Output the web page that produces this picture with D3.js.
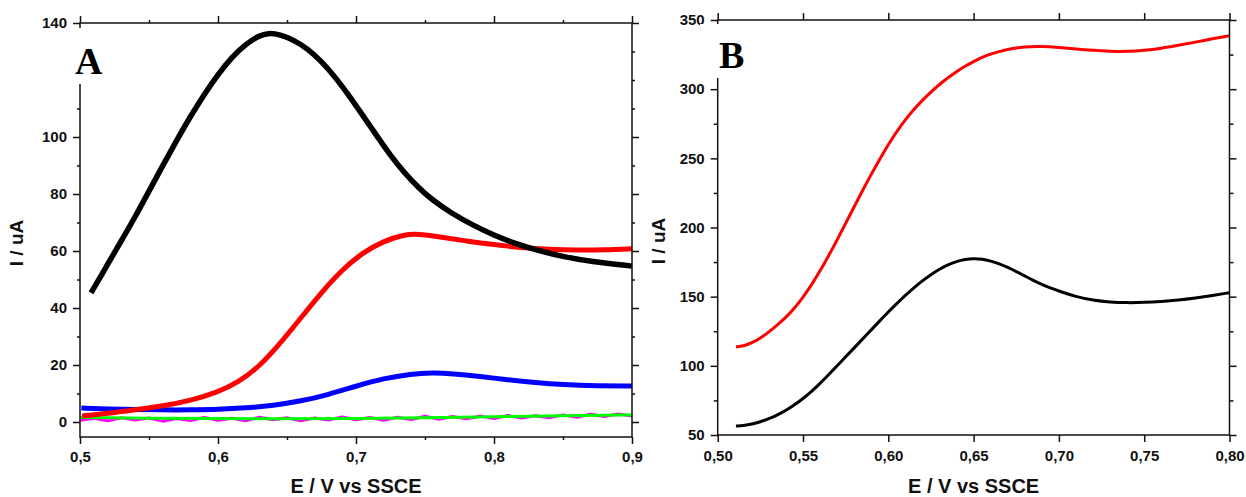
<!DOCTYPE html>
<html><head><meta charset="utf-8">
<script src="https://cdn.jsdelivr.net/npm/d3@7"></script>
<style>body{margin:0;background:#fff}svg{display:block}</style>
</head><body><svg id="c" width="1246" height="497"></svg>
<script>
// ---------- Panel A data ----------
const aXTicks = [0.5, 0.6, 0.7, 0.8, 0.9];
const aXMinor = [0.55, 0.65, 0.75, 0.85];
const aYTicks = [0, 20, 40, 60, 80, 100, 140];
const aYMinor = [10, 30, 50, 70, 90, 110, 120, 130];

const aBlackE = [0.508,0.52,0.53,0.54,0.55,0.56,0.57,0.58,0.59,0.60,0.61,0.62,0.63,0.636,0.645,0.655,0.665,0.675,0.685,0.695,0.705,0.715,0.725,0.735,0.745,0.755,0.77,0.785,0.80,0.815,0.83,0.85,0.87,0.9];
const aBlackI = [45.3,55.3,63.6,72,81,90,98.8,107.2,115,122,128,132.6,135.6,136.5,136,134,131,126.5,121,114.5,107.5,100.5,93.5,87.5,82.3,78,73,69,65.5,62.7,60.4,58,56.3,54.7];

const aRedE = [0.5015,0.52,0.54,0.56,0.58,0.60,0.615,0.63,0.645,0.66,0.675,0.69,0.705,0.72,0.735,0.745,0.76,0.78,0.80,0.82,0.84,0.86,0.88,0.9];
const aRedI = [2.1,3.0,4.3,5.6,7.5,10.5,14,19.5,27.5,36.5,45.5,53.5,59.5,63.5,65.8,66,65,63.5,62.2,61.2,60.6,60.3,60.4,60.8];

const aBlueE = [0.501,0.52,0.54,0.56,0.58,0.60,0.62,0.64,0.66,0.68,0.70,0.72,0.74,0.755,0.77,0.79,0.81,0.83,0.85,0.875,0.9];
const aBlueI = [4.9,4.6,4.35,4.25,4.25,4.4,4.9,5.8,7.3,9.6,12.6,15.3,16.9,17.3,17.0,16.0,14.8,13.8,13.1,12.7,12.6];

const aGreenE = [0.5,0.55,0.6,0.65,0.7,0.75,0.8,0.85,0.9];
const aGreenI = [1.6,1.3,1.2,1.1,1.2,1.5,1.8,2.2,2.5];

const aMagE = [0.50,0.51,0.52,0.53,0.54,0.55,0.56,0.57,0.58,0.59,0.60,0.61,0.62,0.63,0.64,0.65,0.66,0.67,0.68,0.69,0.70,0.71,0.72,0.73,0.74,0.75,0.76,0.77,0.78,0.79,0.80,0.81,0.82,0.83,0.84,0.85,0.86,0.87,0.88,0.89,0.90];
const aMagI = [0.6,1.3,0.4,1.5,0.7,1.4,0.3,1.2,0.5,1.6,0.6,1.3,0.4,1.7,0.8,1.5,0.4,1.4,0.7,1.8,0.8,1.6,0.6,1.7,0.9,2.0,1.0,1.9,1.1,2.1,1.2,2.3,1.4,2.2,1.5,2.5,1.7,2.7,1.9,2.8,2.1];

// ---------- Panel B data ----------
const bXTicks = [0.50, 0.55, 0.60, 0.65, 0.70, 0.75, 0.80];
const bYTicks = [50, 100, 150, 200, 250, 300, 350];
const bYMinor = [75, 125, 175, 225, 275, 325];

const bRedE = [0.5107,0.515,0.52,0.525,0.53,0.535,0.54,0.545,0.55,0.555,0.56,0.565,0.57,0.575,0.58,0.585,0.59,0.595,0.60,0.605,0.61,0.615,0.62,0.625,0.63,0.635,0.64,0.645,0.65,0.655,0.66,0.67,0.68,0.69,0.70,0.71,0.72,0.73,0.74,0.75,0.76,0.77,0.78,0.79,0.80];
const bRedI = [113.8,114.2,116.5,120,124.5,129.5,135,141.5,149.5,158.5,168.5,179.5,191,203,215,227,238.5,249.5,260,269.5,278,285.5,292,298,303.5,308.3,312.7,316.6,320,323,325.5,329,330.8,331,330.2,329,328,327.3,327.2,328,329.5,331.7,334,336.4,338.7];

const bBlackE = [0.5107,0.515,0.52,0.525,0.53,0.535,0.54,0.545,0.55,0.555,0.56,0.565,0.57,0.575,0.58,0.585,0.59,0.595,0.60,0.605,0.61,0.615,0.62,0.625,0.63,0.635,0.64,0.645,0.65,0.655,0.66,0.665,0.67,0.675,0.68,0.685,0.69,0.695,0.70,0.71,0.72,0.73,0.74,0.75,0.76,0.77,0.78,0.79,0.80];
const bBlackI = [56.5,56.8,57.8,59.5,61.8,64.5,67.8,71.8,76.3,81.5,87.3,93.5,100,106.5,113,119.5,126,132.5,139,145,151,156.5,161.5,166,170,173.2,175.5,177,177.6,177.2,175.8,173.8,171.2,168.2,165,161.8,158.8,156.3,154,150,147.3,146,145.6,145.8,146.5,147.5,149,150.8,152.9];

const svg = d3.select("#c");
const SANS = "'Liberation Sans', Arial, sans-serif";
const SERIF = "'Liberation Serif', 'Times New Roman', serif";

function zip(E, I) { return E.map((e, i) => [e, I[i]]); }

function drawPanel(p) {
  const g = svg.append("g");
  const x = d3.scaleLinear().domain(p.xDom).range([p.left, p.right]);
  const y = d3.scaleLinear().domain(p.yDom).range([p.bottom, p.top]);

  p.series.forEach(s => {
    const line = d3.line().x(d => x(d[0])).y(d => y(d[1]))
      .curve(s.noisy ? d3.curveLinear : d3.curveBasis);
    g.append("path").datum(zip(s.E, s.I))
      .attr("fill", "none").attr("stroke", s.color)
      .attr("stroke-width", s.w).attr("stroke-linejoin", "round")
      .attr("d", line);
  });

  const fmt = v => d3.format(p.xFmt)(v).replace(".", ",");
  const styleAxis = (sel) => {
    sel.select(".domain").remove();
    sel.selectAll("line").attr("stroke", "#111").attr("stroke-width", 1.5);
    sel.selectAll("text").attr("font-family", SANS).attr("font-weight", "bold")
      .attr("font-size", 15).attr("fill", "#111");
  };
  // bottom / top
  g.append("g").attr("transform", `translate(0,${p.bottom})`)
    .call(d3.axisBottom(x).tickValues(p.xTicks).tickSize(p.tick).tickPadding(p.xPad).tickFormat(fmt)).call(styleAxis);
  g.append("g").attr("transform", `translate(0,${p.top})`)
    .call(d3.axisTop(x).tickValues(p.xTicks).tickSize(p.tick).tickFormat("")).call(styleAxis);
  if (p.xMinor.length) {
    g.append("g").attr("transform", `translate(0,${p.bottom})`)
      .call(d3.axisBottom(x).tickValues(p.xMinor).tickSize(p.minor).tickFormat("")).call(styleAxis);
    g.append("g").attr("transform", `translate(0,${p.top})`)
      .call(d3.axisTop(x).tickValues(p.xMinor).tickSize(p.minor).tickFormat("")).call(styleAxis);
  }
  // left
  g.append("g").attr("transform", `translate(${p.left},0)`)
    .call(d3.axisLeft(y).tickValues(p.yTicks).tickSize(p.tick).tickPadding(6).tickFormat(d3.format("d"))).call(styleAxis);
  g.append("g").attr("transform", `translate(${p.left},0)`)
    .call(d3.axisLeft(y).tickValues(p.yMinor).tickSize(p.minor).tickFormat("")).call(styleAxis);
  // right
  g.append("g").attr("transform", `translate(${p.right},0)`)
    .call(d3.axisRight(y).tickValues(p.yTicks).tickSize(p.tick).tickFormat("")).call(styleAxis);
  g.append("g").attr("transform", `translate(${p.right},0)`)
    .call(d3.axisRight(y).tickValues(p.yMinor).tickSize(p.minor).tickFormat("")).call(styleAxis);

  // frame
  g.append("rect").attr("x", p.left).attr("y", p.top)
    .attr("width", p.right - p.left).attr("height", p.bottom - p.top)
    .attr("fill", "none").attr("stroke", "#111").attr("stroke-width", 1.5);

  // panel letter with white backing
  g.append("rect").attr("x", p.box[0]).attr("y", p.box[1])
    .attr("width", p.box[2]).attr("height", p.box[3]).attr("fill", "#fff");
  g.append("text").attr("x", p.letterPos[0]).attr("y", p.letterPos[1])
    .attr("font-family", SERIF).attr("font-weight", "bold").attr("font-size", 38)
    .attr("fill", "#000").text(p.letter);

  // axis titles
  g.append("text").attr("x", (p.left + p.right) / 2).attr("y", 493)
    .attr("text-anchor", "middle").attr("font-family", SANS).attr("font-weight", "bold")
    .attr("font-size", 20).attr("fill", "#111").text("E / V vs SSCE");
  g.append("text").attr("transform", `translate(${p.yTitle[0]},${p.yTitle[1]}) rotate(-90)`)
    .attr("text-anchor", "middle").attr("font-family", SANS).attr("font-weight", "bold")
    .attr("font-size", 19).attr("fill", "#111").text("I / uA");
}

drawPanel({
  left: 80, right: 632, top: 23, bottom: 437,
  xDom: [0.5, 0.9], yDom: [-5.26, 140],
  xTicks: aXTicks, xMinor: aXMinor, yTicks: aYTicks, yMinor: aYMinor,
  xFmt: ".1f", tick: 7, minor: 3, xPad: 7,
  box: [34, 28, 72, 56], letter: "A", letterPos: [75, 74],
  yTitle: [23, 243],
  series: [
    { E: aMagE, I: aMagI, color: "#ff00ff", w: 3, noisy: true },
    { E: aGreenE, I: aGreenI, color: "#00ff00", w: 3 },
    { E: aBlueE, I: aBlueI, color: "#0000ff", w: 5 },
    { E: aRedE, I: aRedI, color: "#ff0000", w: 5 },
    { E: aBlackE, I: aBlackI, color: "#000000", w: 5.5 }
  ]
});

drawPanel({
  left: 717.7, right: 1229.5, top: 20, bottom: 435,
  xDom: [0.5, 0.8], yDom: [50, 350],
  xTicks: bXTicks, xMinor: [], yTicks: bYTicks, yMinor: bYMinor,
  xFmt: ".2f", tick: 7, minor: 4, xPad: 8,
  box: [700, 24, 50, 54], letter: "B", letterPos: [719, 68],
  yTitle: [665, 241],
  series: [
    { E: bRedE, I: bRedI, color: "#ff0000", w: 3 },
    { E: bBlackE, I: bBlackI, color: "#000000", w: 3 }
  ]
});
</script></body></html>
